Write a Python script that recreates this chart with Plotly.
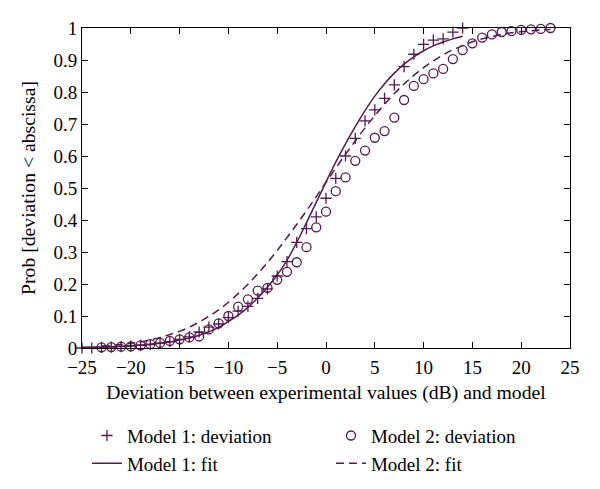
import plotly.graph_objects as go

# ---- data ----
m1_x = list(range(-25, 15))
m1_dev = [0, 0, 0.002, 0.003, 0.004, 0.006, 0.008, 0.011, 0.015, 0.02,
          0.027, 0.035, 0.05, 0.065, 0.075, 0.095, 0.115, 0.13, 0.155, 0.185,
          0.225, 0.27, 0.33, 0.373, 0.41, 0.468, 0.53, 0.60, 0.655, 0.71,
          0.744, 0.78, 0.822, 0.879, 0.918, 0.949, 0.962, 0.966, 0.987, 1.0]

m2_x = list(range(-23, 24))
m2_dev = [0.002, 0.003, 0.004, 0.005, 0.008, 0.012, 0.016, 0.022, 0.027, 0.033,
          0.036, 0.058, 0.077, 0.10, 0.129, 0.152, 0.179, 0.188, 0.213, 0.238,
          0.268, 0.315, 0.377, 0.426, 0.49, 0.533, 0.585, 0.617, 0.657, 0.678,
          0.72, 0.775, 0.819, 0.84, 0.858, 0.872, 0.903, 0.931, 0.952, 0.97,
          0.98, 0.9875, 0.99, 0.994, 0.996, 0.997, 1.0]

fit1_x = list(range(-25, 15))
fit1_y = [0.002, 0.003, 0.003, 0.004, 0.006, 0.007, 0.009, 0.012, 0.015, 0.019,
          0.025, 0.031, 0.040, 0.051, 0.064, 0.083, 0.103, 0.127, 0.156, 0.190,
          0.228, 0.274, 0.330, 0.392, 0.455, 0.519, 0.581, 0.638, 0.692, 0.742,
          0.787, 0.826, 0.859, 0.887, 0.910, 0.929, 0.944, 0.956, 0.966, 0.974]

fit2_x = list(range(-23, 24))
fit2_y = [0.006, 0.008, 0.011, 0.015, 0.019, 0.025, 0.033, 0.042, 0.052, 0.065,
          0.081, 0.099, 0.119, 0.143, 0.170, 0.199, 0.232, 0.267, 0.305, 0.345,
          0.386, 0.429, 0.473, 0.518, 0.562, 0.605, 0.647, 0.688, 0.726, 0.762,
          0.795, 0.825, 0.852, 0.876, 0.897, 0.916, 0.932, 0.945, 0.957, 0.966,
          0.973, 0.980, 0.985, 0.988, 0.991, 0.994, 0.995]

x_ticks = [-25, -20, -15, -10, -5, 0, 5, 10, 15, 20, 25]
x_tick_text = ["\u221225", "\u221220", "\u221215", "\u221210", "\u22125", "0", "5", "10", "15", "20", "25"]
y_ticks = [0, 0.1, 0.2, 0.3, 0.4, 0.5, 0.6, 0.7, 0.8, 0.9, 1]
y_tick_text = ["0", "0.1", "0.2", "0.3", "0.4", "0.5", "0.6", "0.7", "0.8", "0.9", "1"]

COLOR = "#561a4f"
FONT = "Liberation Serif, Times New Roman, Times, DejaVu Serif, serif"
FS = 19
TFS = 19.7

fig = go.Figure()
fig.add_trace(go.Scatter(x=m1_x, y=m1_dev, mode="markers", name="Model 1: deviation",
                         marker=dict(symbol="cross-thin-open", size=8, color=COLOR,
                                     line=dict(width=1.3, color=COLOR)),
                         cliponaxis=False))
fig.add_trace(go.Scatter(x=m2_x, y=m2_dev, mode="markers", name="Model 2: deviation",
                         marker=dict(symbol="circle-open", size=9, color=COLOR,
                                     line=dict(width=1.3, color=COLOR)),
                         cliponaxis=False))
fig.add_trace(go.Scatter(x=fit1_x, y=fit1_y, mode="lines", name="Model 1: fit",
                         line=dict(color=COLOR, width=1.5, shape="spline")))
fig.add_trace(go.Scatter(x=fit2_x, y=fit2_y, mode="lines", name="Model 2: fit",
                         line=dict(color=COLOR, width=1.5, dash="8px,5px", shape="spline")))

axis_common = dict(showgrid=False, zeroline=False, showline=True, linecolor="black",
                   linewidth=1, mirror="ticks", ticks="inside", ticklen=6,
                   tickcolor="black", automargin=False,
                   tickfont=dict(family=FONT, size=FS, color="black"))

fig.update_xaxes(range=[-25, 25], tickvals=x_ticks, ticktext=x_tick_text,
                 ticklabelstandoff=2,
                 title=dict(text="Deviation between experimental values (dB) and model",
                            font=dict(family=FONT, size=TFS, color="black"), standoff=8),
                 **axis_common)
fig.update_yaxes(range=[0, 1], tickvals=y_ticks, ticktext=y_tick_text,
                 title=dict(text="Prob [deviation < abscissa]",
                            font=dict(family=FONT, size=TFS, color="black"), standoff=12),
                 **axis_common)

fig.update_layout(
    width=600, height=489,
    margin=dict(l=74, r=38, t=20, b=149),
    plot_bgcolor="white", paper_bgcolor="white",
    font=dict(family=FONT, size=FS, color="black"),
    legend=dict(orientation="h", x=0.0102, xanchor="left", y=-0.2145, yanchor="top",
                entrywidth=199, tracegroupgap=0, itemwidth=30,
                font=dict(family=FONT, size=FS, color="black"),
                bgcolor="rgba(0,0,0,0)"),
)

fig.write_html("out.html")
